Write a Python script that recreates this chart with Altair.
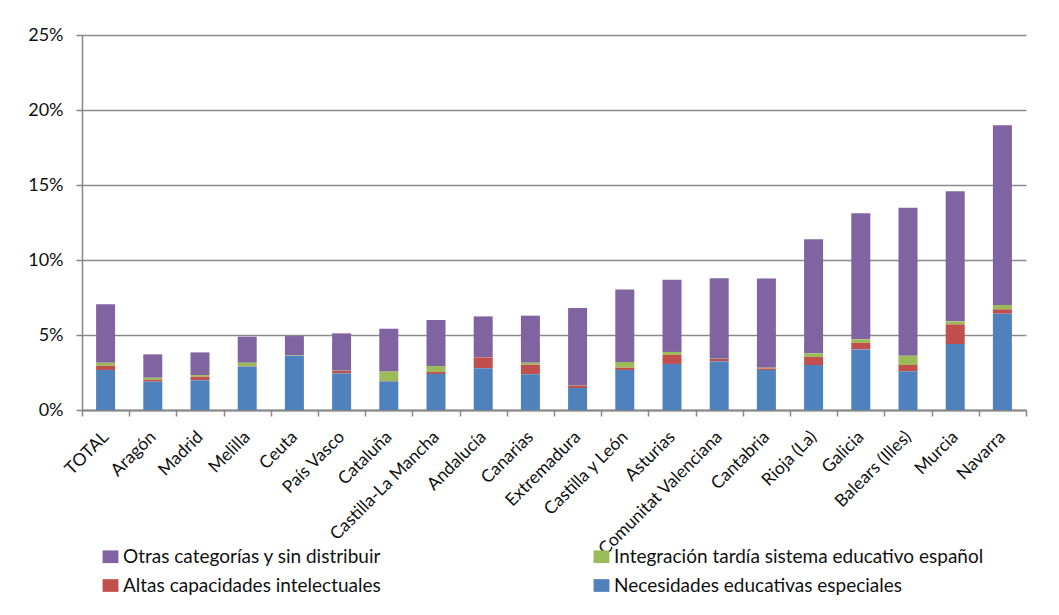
import altair as alt
import pandas as pd

categories = ["TOTAL", "Aragón", "Madrid", "Melilla", "Ceuta", "País Vasco", "Cataluña",
              "Castilla-La Mancha", "Andalucía", "Canarias", "Extremadura", "Castilla y León",
              "Asturias", "Comunitat Valenciana", "Cantabria", "Rioja (La)", "Galicia",
              "Balears (Illes)", "Murcia", "Navarra"]

necesidades = [2.67, 1.89, 1.98, 2.89, 3.62, 2.44, 1.90, 2.40, 2.78, 2.38, 1.47, 2.67,
               3.07, 3.24, 2.67, 3.00, 4.04, 2.58, 4.40, 6.42]
altas = [0.28, 0.13, 0.24, 0.02, 0.00, 0.16, 0.03, 0.13, 0.73, 0.64, 0.15, 0.15,
         0.60, 0.16, 0.10, 0.53, 0.43, 0.42, 1.31, 0.29]
integracion = [0.20, 0.13, 0.11, 0.24, 0.04, 0.02, 0.63, 0.40, 0.02, 0.13, 0.02, 0.38,
               0.20, 0.02, 0.05, 0.25, 0.24, 0.62, 0.20, 0.29]
otras = [3.90, 1.56, 1.51, 1.74, 1.27, 2.49, 2.86, 3.07, 2.71, 3.14, 5.16, 4.84,
         4.82, 5.36, 5.94, 7.60, 8.40, 9.87, 8.67, 11.98]

OTRAS = "Otras categorías y sin distribuir"
INTEG = "Integración tardía sistema educativo español"
ALTAS = "Altas capacidades intelectuales"
NEE = "Necesidades educativas especiales"

# legend grid is filled column by column: this order gives
# Otras | Integración  /  Altas | Necesidades
legend_order = [OTRAS, ALTAS, INTEG, NEE]
legend_colors = ["#8064A2", "#C0504D", "#9BBB59", "#4F81BD"]
stack_order = {NEE: 0, ALTAS: 1, INTEG: 2, OTRAS: 3}
series_values = {OTRAS: otras, INTEG: integracion, ALTAS: altas, NEE: necesidades}

rows = []
for name, vals in series_values.items():
    for c, v in zip(categories, vals):
        rows.append({"Comunidad": c, "Serie": name, "valor": v / 100.0,
                     "orden": stack_order[name]})
df = pd.DataFrame(rows)

FONT = "Lato"
GREY = "#868686"

chart = alt.Chart(df).mark_bar(size=19).encode(
    x=alt.X("Comunidad:N", sort=categories, title=None,
            scale=alt.Scale(paddingInner=0, paddingOuter=0),
            axis=alt.Axis(labelAngle=-45, labelAlign="right", labelBaseline="middle",
                          labelPadding=18, tickBand="extent", tickSize=6,
                          tickColor=GREY, tickWidth=1.5,
                          domainColor=GREY, domainWidth=2,
                          labelFontSize=17.5, labelColor="#111111", labelFont=FONT,
                          grid=False)),
    y=alt.Y("valor:Q", stack="zero", title=None,
            scale=alt.Scale(domain=[0, 0.25], nice=False),
            axis=alt.Axis(values=[0, 0.05, 0.10, 0.15, 0.20, 0.25], format=".0%",
                          tickSize=6, tickColor=GREY, tickWidth=1.5,
                          domainColor=GREY, domainWidth=1.5,
                          gridColor="#8a8a8a", gridWidth=1.5,
                          labelPadding=13, labelFontSize=18, labelColor="#111111",
                          labelFont=FONT)),
    color=alt.Color("Serie:N",
                    scale=alt.Scale(domain=legend_order, range=legend_colors),
                    legend=alt.Legend(title=None, orient="none", legendX=19, legendY=512,
                                      columns=2, columnPadding=210, rowPadding=9,
                                      symbolType="M-1.25,-1H1.25V1H-1.25Z", symbolSize=161,
                                      symbolStrokeWidth=0, labelOffset=3,
                                      labelFontSize=19, labelFont=FONT,
                                      labelColor="#111111", labelLimit=600, padding=0)),
    order=alt.Order("orden:Q", sort="ascending"),
).properties(
    width=944, height=375,
    autosize=alt.AutoSizeParams(type="none"),
    padding={"left": 74, "top": 27, "right": 25, "bottom": 195},
).configure_view(stroke=None)

chart.save("out.html", embed_options={"renderer": "svg", "actions": False})
